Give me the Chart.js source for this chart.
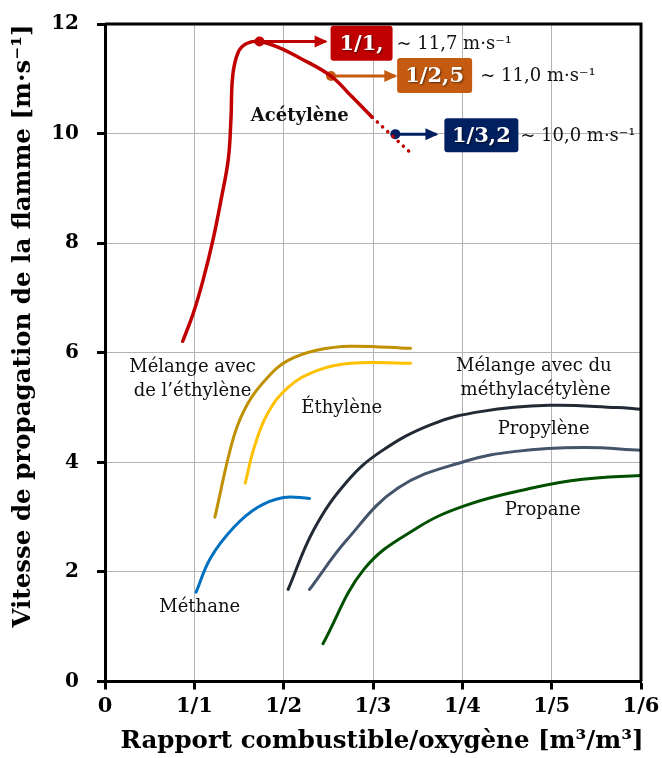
<!DOCTYPE html>
<html lang="fr">
<head>
<meta charset="UTF-8">
<title>Vitesse de propagation de la flamme</title>
<script src="https://cdn.jsdelivr.net/npm/chart.js"></script>
<style>
    body { margin: 0; padding: 0; background: #fff; }
    #wrap { width: 662px; height: 758px; }
</style>
</head>
<body>
<div id="wrap"><canvas id="flameChart" width="662" height="758"></canvas></div>
<script>
// --- données (x : rapport combustible/oxygène, 1/n -> n) ---
const xTickLabels = ['0', '1/1', '1/2', '1/3', '1/4', '1/5', '1/6'];
const yTicks = [0, 2, 4, 6, 8, 10, 12];

const acetyleneX = [0.87, 0.99, 1.10, 1.21, 1.30, 1.38, 1.41, 1.43, 1.49, 1.58, 1.73, 1.96, 2.18, 2.53, 2.76, 2.99];
const acetyleneY = [6.21, 6.73, 7.34, 8.07, 8.80, 9.53, 10.27, 11.06, 11.48, 11.64, 11.68, 11.56, 11.38, 11.05, 10.68, 10.30];
const acetyleneDotX = [2.99, 3.40];
const acetyleneDotY = [10.30, 9.68];

const melEthyleneX = [1.23, 1.44, 1.60, 1.82, 2.05, 2.38, 2.75, 3.42];
const melEthyleneY = [3.00, 4.46, 5.08, 5.55, 5.86, 6.05, 6.12, 6.08];

const ethyleneX = [1.57, 1.67, 1.82, 2.05, 2.38, 2.75, 3.42];
const ethyleneY = [3.62, 4.27, 4.89, 5.37, 5.68, 5.81, 5.81];

const methaneX = [1.02, 1.18, 1.44, 1.71, 2.00, 2.29];
const methaneY = [1.63, 2.25, 2.81, 3.18, 3.36, 3.34];

const melMethylX = [2.05, 2.34, 2.71, 3.09, 3.65, 4.22, 4.97, 5.73, 6.00];
const melMethylY = [1.68, 2.78, 3.65, 4.20, 4.69, 4.93, 5.04, 5.00, 4.97];

const propyleneX = [2.29, 2.71, 3.28, 4.03, 4.60, 5.35, 6.00];
const propyleneY = [1.68, 2.59, 3.53, 4.02, 4.20, 4.27, 4.22];

const propaneX = [2.44, 2.90, 3.47, 4.03, 4.78, 5.35, 6.00];
const propaneY = [0.69, 2.05, 2.78, 3.21, 3.53, 3.69, 3.76];

// points remarquables de l'acétylène et flèches vers les étiquettes
const markX = [1.73, 2.53, 3.25];
const markY = [11.68, 11.05, 9.99];
const arrowEndX = [2.47, 3.25, 3.71];
const markLabels = ['1/1,', '1/2,5', '1/3,2'];
const markValues = ['~ 11,7 m·s⁻¹', '~ 11,0 m·s⁻¹', '~ 10,0 m·s⁻¹'];
const markColors = ['#c00000', '#c55a11', '#002060'];

const SERIF = "'DejaVu Serif', 'Liberation Serif', serif";

function pts(xs, ys) {
    return xs.map((x, i) => ({ x: x, y: ys[i] }));
}

function curve(data, color, extra) {
    return Object.assign({
        data: data,
        borderColor: color,
        backgroundColor: color,
        borderWidth: 3,
        pointRadius: 0,
        showLine: true,
        tension: 0.4,
        fill: false,
        borderCapStyle: 'round'
    }, extra || {});
}

const datasets = [
    curve(pts(acetyleneX, acetyleneY), '#c00000', { borderWidth: 3.5 }),
    curve(pts(acetyleneDotX, acetyleneDotY), '#c00000', { borderDash: [0.1, 7], borderWidth: 3.5, tension: 0 }),
    curve(pts(melEthyleneX, melEthyleneY), '#bf9000'),
    curve(pts(ethyleneX, ethyleneY), '#ffc000'),
    curve(pts(methaneX, methaneY), '#0070c0'),
    curve(pts(melMethylX, melMethylY), '#222a35'),
    curve(pts(propyleneX, propyleneY), '#44546a'),
    curve(pts(propaneX, propaneY), '#005000')
];

// flèches (ligne dessinée par la librairie, pointe ajoutée par le plugin)
markX.forEach((x, i) => {
    datasets.push(curve([{ x: x, y: markY[i] }, { x: arrowEndX[i], y: markY[i] }], markColors[i],
        { borderWidth: 3, tension: 0, isArrow: true, borderCapStyle: 'butt' }));
});

datasets.push({
    data: pts(markX, markY),
    showLine: false,
    pointRadius: 5,
    pointBackgroundColor: markColors,
    pointBorderColor: markColors,
    pointBorderWidth: 0
});

// positions des textes (unités du graphique)
const curveTexts = [
    { t: 'Acétylène', x: 2.18, y: 10.32, bold: true },
    { t: 'Mélange avec', x: 0.98, y: 5.73 },
    { t: 'de l’éthylène', x: 0.98, y: 5.29 },
    { t: 'Éthylène', x: 2.65, y: 4.98 },
    { t: 'Mélange avec du', x: 4.80, y: 5.75 },
    { t: 'méthylacétylène', x: 4.82, y: 5.31 },
    { t: 'Propylène', x: 4.91, y: 4.60 },
    { t: 'Propane', x: 4.90, y: 3.12 },
    { t: 'Méthane', x: 1.06, y: 1.36 }
];
const boxes = [
    { left: 2.525, y: 11.65, w: 62, h: 35, textX: 3.263 },
    { left: 3.270, y: 11.06, w: 75, h: 35, textX: 4.201 },
    { left: 3.799, y: 9.97, w: 74, h: 34, textX: 4.648 }
];

const decorPlugin = {
    id: 'decor',
    afterDatasetsDraw(chart) {
        const ctx = chart.ctx;
        const xs = chart.scales.x, ys = chart.scales.y;
        const a = chart.chartArea;

        // cadre haut / droite
        ctx.save();
        ctx.strokeStyle = '#000';
        ctx.lineWidth = 3;
        ctx.beginPath();
        ctx.moveTo(a.left, a.top);
        ctx.lineTo(a.right, a.top);
        ctx.lineTo(a.right, a.bottom);
        ctx.stroke();
        ctx.restore();

        // pointes de flèches
        chart.data.datasets.forEach((ds, i) => {
            if (!ds.isArrow) return;
            const p = chart.getDatasetMeta(i).data[1];
            ctx.save();
            ctx.fillStyle = ds.borderColor;
            ctx.beginPath();
            ctx.moveTo(p.x + 2, p.y);
            ctx.lineTo(p.x - 11, p.y - 6);
            ctx.lineTo(p.x - 11, p.y + 6);
            ctx.closePath();
            ctx.fill();
            ctx.restore();
        });

        // titres des axes
        ctx.save();
        ctx.fillStyle = '#000';
        ctx.font = 'bold 24.5px ' + SERIF;
        ctx.textAlign = 'center';
        ctx.textBaseline = 'middle';
        ctx.fillText('Rapport combustible/oxygène [m³/m³]', 382, 742);
        ctx.translate(24, 326);
        ctx.rotate(-Math.PI / 2);
        ctx.fillText('Vitesse de propagation de la flamme [m·s⁻¹]', 0, 0);
        ctx.restore();

        // étiquettes des courbes
        ctx.save();
        ctx.textAlign = 'center';
        ctx.textBaseline = 'middle';
        ctx.fillStyle = '#111';
        curveTexts.forEach(c => {
            ctx.font = (c.bold ? 'bold ' : '') + '18px ' + SERIF;
            ctx.fillText(c.t, xs.getPixelForValue(c.x), ys.getPixelForValue(c.y));
        });
        ctx.restore();

        // boîtes colorées et valeurs
        boxes.forEach((b, i) => {
            const x0 = xs.getPixelForValue(b.left);
            const yc = ys.getPixelForValue(b.y);
            ctx.save();
            ctx.fillStyle = markColors[i];
            ctx.beginPath();
            ctx.roundRect(x0, yc - b.h / 2, b.w, b.h, 3);
            ctx.fill();
            ctx.font = 'bold 21px ' + SERIF;
            ctx.textAlign = 'center';
            ctx.textBaseline = 'middle';
            ctx.shadowColor = 'rgba(0,0,0,0.55)';
            ctx.shadowOffsetX = 1;
            ctx.shadowOffsetY = 1;
            ctx.shadowBlur = 2;
            ctx.fillStyle = '#fff';
            ctx.fillText(markLabels[i], x0 + b.w / 2, yc + 1);
            ctx.restore();

            ctx.save();
            ctx.font = '18px ' + SERIF;
            ctx.textAlign = 'left';
            ctx.textBaseline = 'middle';
            ctx.fillStyle = '#111';
            ctx.fillText(markValues[i], xs.getPixelForValue(b.textX), yc + 1);
            ctx.restore();
        });
    }
};

const edgeTransparent = (max) => (c) =>
    (c.tick && (c.tick.value === 0 || c.tick.value === max)) ? 'rgba(0,0,0,0)' : '#b3b3b3';

new Chart(document.getElementById('flameChart').getContext('2d'), {
    type: 'scatter',
    data: { datasets: datasets },
    options: {
        responsive: false,
        animation: false,
        layout: { padding: { left: 0, right: 21, top: 24, bottom: 0 } },
        plugins: { legend: { display: false }, tooltip: { enabled: false } },
        scales: {
            x: {
                type: 'linear',
                min: 0,
                max: 6,
                afterFit: s => { s.height = 76.5; s.paddingLeft = 0; s.paddingRight = 0; },
                afterBuildTicks: s => { s.ticks = xTickLabels.map((_, i) => ({ value: i })); },
                ticks: {
                    padding: 4,
                    color: '#000',
                    font: { family: SERIF, size: 21, weight: 'bold' },
                    callback: v => xTickLabels[v]
                },
                grid: { color: edgeTransparent(6), lineWidth: 1, tickLength: 8, tickColor: '#000', tickWidth: 3 },
                border: { display: true, color: '#000', width: 3 }
            },
            y: {
                type: 'linear',
                min: 0,
                max: 12,
                afterFit: s => { s.width = 105; s.paddingTop = 0; s.paddingBottom = 0; },
                afterBuildTicks: s => { s.ticks = yTicks.map(v => ({ value: v })); },
                ticks: {
                    padding: 18,
                    color: '#000',
                    font: { family: SERIF, size: 20, weight: 'bold' }
                },
                grid: { color: edgeTransparent(12), lineWidth: 1, tickLength: 8, tickColor: '#000', tickWidth: 3 },
                border: { display: true, color: '#000', width: 3 }
            }
        }
    },
    plugins: [decorPlugin]
});
</script>
</body>
</html>
